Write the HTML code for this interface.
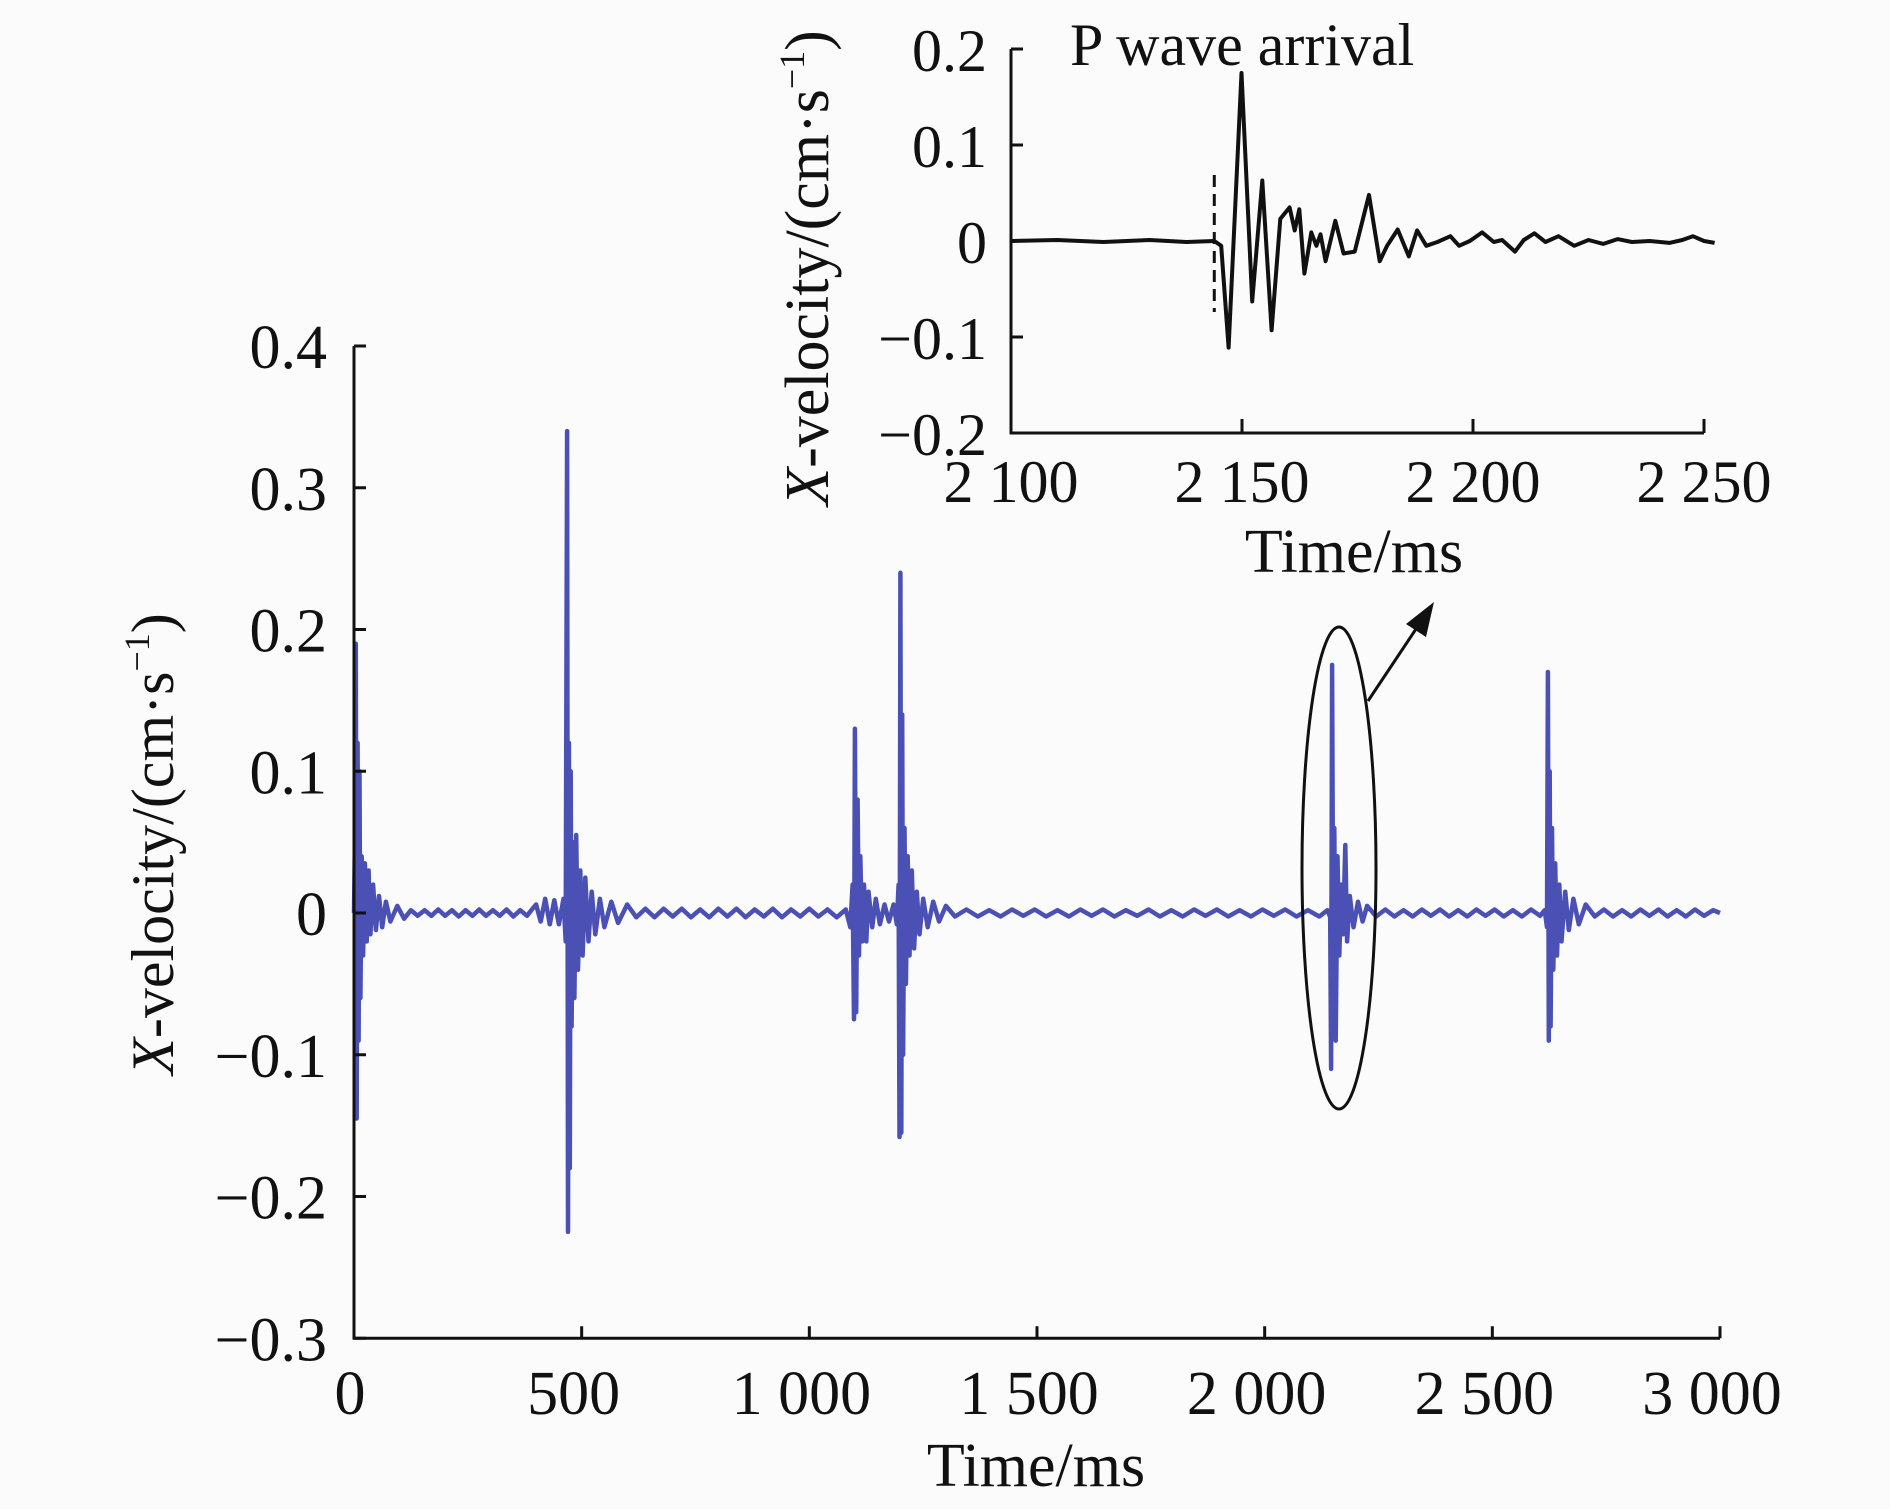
<!DOCTYPE html>
<html><head><meta charset="utf-8"><style>
html,body{margin:0;padding:0;background:#fbfbfb;}
svg{display:block;font-family:"Liberation Serif",serif;}
</style></head><body>
<svg id="chart" width="1890" height="1509" viewBox="0 0 1890 1509">
<rect x="0" y="0" width="1890" height="1509" fill="#fbfbfb"/>
<g id="main"></g>
<g id="inset"></g>
</svg>
<script>
// ---- main chart data ----
const mainXTicks = [0, 500, 1000, 1500, 2000, 2500, 3000];
const mainXTickLabels = ["0", "500", "1 000", "1 500", "2 000", "2 500", "3 000"];
const mainYTicks = [0.4, 0.3, 0.2, 0.1, 0, -0.1, -0.2, -0.3];
const mainYTickLabels = ["0.4", "0.3", "0.2", "0.1", "0", "\u22120.1", "\u22120.2", "\u22120.3"];
const ev1T = [0,2,3,4,6,8,10,12,14,17,20,24,28,32,36,42,48,55,62,70,80,95,110];
const ev1V = [0,0.05,-0.06,0.19,-0.145,0.12,-0.09,0.1,-0.06,0.04,-0.03,0.035,-0.02,0.03,-0.015,0.02,-0.012,0.012,-0.01,0.008,-0.006,0.005,-0.004];
const base1T = [125,140,155,170,185,200,215,230,245,260,275,290,305,320,335,350,365,380,392];
const base1V = [0.002,-0.002,0.002,-0.002,0.0025,-0.002,0.002,-0.0025,0.002,-0.002,0.0025,-0.002,0.002,-0.002,0.0025,-0.0025,0.002,-0.002,0.003];
const ev2T = [400,410,420,430,440,450,460,465,468,470,472,474,476,478,481,484,488,492,497,502,508,515,522,530,540,550,565,580,600];
const ev2V = [0.006,-0.006,0.01,-0.008,0.009,-0.008,0.01,-0.02,0.34,-0.225,0.12,-0.18,0.1,-0.08,0.05,-0.06,0.055,-0.04,0.03,-0.03,0.025,-0.02,0.015,-0.015,0.01,-0.01,0.008,-0.007,0.006];
const base2T = [620,640,660,680,700,720,740,760,780,800,820,840,860,880,900,920,940,960,980,1000,1020,1040,1060,1080];
const base2V = [-0.003,0.003,-0.003,0.003,-0.0025,0.003,-0.003,0.0025,-0.003,0.003,-0.0025,0.003,-0.003,0.0025,-0.0025,0.003,-0.003,0.0025,-0.0025,0.003,-0.0025,0.0025,-0.003,0.0025];
const ev3T = [1090,1095,1098,1100,1103,1106,1109,1112,1116,1120,1125,1130,1138,1146,1155,1165,1175,1185,1192];
const ev3V = [-0.01,0.02,-0.075,0.13,-0.07,0.08,-0.03,0.04,-0.02,0.02,-0.02,0.015,-0.01,0.01,-0.008,0.006,-0.006,0.006,-0.008];
const ev4T = [1196,1198,1200,1202,1204,1206,1209,1212,1216,1220,1225,1230,1236,1242,1250,1260,1272,1285,1300];
const ev4V = [0.02,-0.158,0.24,-0.155,0.14,-0.1,0.06,-0.05,0.04,-0.03,0.03,-0.025,0.015,-0.015,0.01,-0.01,0.008,-0.006,0.005];
const base3T = [1320,1345,1370,1395,1420,1445,1470,1495,1520,1545,1570,1595,1620,1645,1670,1695,1720,1745,1770,1795,1820,1845,1870,1895,1920,1945,1970,1995,2020,2045,2070,2095,2120,2138];
const base3V = [-0.0025,0.0025,-0.0025,0.002,-0.0025,0.0025,-0.002,0.0025,-0.0025,0.002,-0.0025,0.0025,-0.002,0.0025,-0.0025,0.002,-0.002,0.0025,-0.0025,0.002,-0.0025,0.0025,-0.002,0.0025,-0.0025,0.002,-0.0025,0.0025,-0.002,0.0025,-0.0025,0.002,-0.0025,0.002];
const ev5T = [2144,2146,2148,2151,2153,2156,2160,2164,2168,2172,2177,2181,2187,2195,2205,2215,2225];
const ev5V = [-0.003,-0.11,0.175,-0.07,0.06,-0.09,0.04,-0.03,0.02,-0.015,0.048,-0.02,0.012,-0.01,0.008,-0.006,0.005];
const base4T = [2245,2265,2285,2305,2325,2345,2365,2385,2405,2425,2445,2465,2485,2505,2525,2545,2565,2585,2605,2615];
const base4V = [-0.0025,0.0025,-0.0025,0.002,-0.0025,0.0025,-0.002,0.0025,-0.0025,0.002,-0.0025,0.0025,-0.002,0.0025,-0.0025,0.002,-0.0025,0.0025,-0.002,0.002];
const ev6T = [2620,2622,2624,2626,2628,2631,2634,2638,2642,2647,2652,2660,2668,2678,2690,2705];
const ev6V = [-0.01,0.17,-0.09,0.1,-0.08,0.06,-0.04,0.035,-0.03,0.02,-0.02,0.015,-0.012,0.01,-0.008,0.006];
const base5T = [2725,2745,2765,2785,2805,2825,2845,2865,2885,2905,2925,2945,2965,2985,3000];
const base5V = [-0.0025,0.0025,-0.0025,0.002,-0.0025,0.0025,-0.002,0.0025,-0.0025,0.002,-0.0025,0.0025,-0.002,0.002,0];

// ---- inset data ----
const insetXTicks = [2100, 2150, 2200, 2250];
const insetXTickLabels = ["2 100", "2 150", "2 200", "2 250"];
const insetYTicks = [0.2, 0.1, 0, -0.1, -0.2];
const insetYTickLabels = ["0.2", "0.1", "0", "\u22120.1", "\u22120.2"];
const insetT = [2100.3,2110,2120,2130,2138,2144.0,2145.5,2147.1,2149.9,2152.2,2154.4,2156.4,2158.3,2160.3,2161.4,2162.4,2163.5,2165.0,2166.1,2167.0,2168.1,2170.2,2172.0,2174.4,2177.5,2179.8,2181.4,2183.7,2186.1,2187.9,2189.9,2192.3,2195.1,2197.0,2199.3,2202.0,2204.5,2206.3,2209.1,2211.0,2213.3,2215.7,2218.5,2221.9,2225.0,2228.2,2231.3,2234.4,2238.3,2242.5,2245.3,2247.6,2250.0,2252.3];
const insetV = [0,0.001,-0.001,0.001,-0.001,0,-0.005,-0.111,0.175,-0.063,0.063,-0.093,0.023,0.035,0.011,0.033,-0.034,0.009,-0.005,0.007,-0.021,0.021,-0.013,-0.011,0.048,-0.021,-0.005,0.012,-0.016,0.011,-0.005,-0.001,0.005,-0.005,0,0.009,-0.001,0.001,-0.011,0.001,0.008,-0.001,0.005,-0.005,0.001,-0.003,0.002,-0.001,0,-0.002,0.001,0.005,0,-0.002];
const pArrival = 2144;

const NS = "http://www.w3.org/2000/svg";
function mk(parent, tag, attrs, text) {
  const e = document.createElementNS(NS, tag);
  for (const k in attrs) e.setAttribute(k, attrs[k]);
  if (text !== undefined) e.textContent = text;
  parent.appendChild(e);
  return e;
}

// ---- main ----
const main = document.getElementById('main');
const mx = t => 354 + (t - 0) / 3000 * (1720 - 354);
const my = v => 913 - v / 0.4 * (913 - 346);
const mainT = [].concat(ev1T, base1T, ev2T, base2T, ev3T, ev4T, base3T, ev5T, base4T, ev6T, base5T);
const mainV = [].concat(ev1V, base1V, ev2V, base2V, ev3V, ev4V, base3V, ev5V, base4V, ev6V, base5V);
let d = "";
mainT.forEach((t, i) => { d += (i ? "L" : "M") + mx(t).toFixed(1) + " " + my(mainV[i]).toFixed(1); });
const ml = mk(main, 'path', {d: d, fill: 'none', stroke: '#4b50b5', 'stroke-width': 4.5, 'stroke-linejoin': 'round'});



const ax = mk(main, 'path', {d: `M${mx(0)} ${my(0.4)}L${mx(0)} ${my(-0.3)}L${mx(3000)} ${my(-0.3)}`, fill: 'none', stroke: '#111', 'stroke-width': 3});


mainYTicks.forEach((v, i) => {
  const tk = mk(main, 'line', {x1: mx(0), x2: mx(0) + 12, y1: my(v), y2: my(v), stroke: '#111', 'stroke-width': 3});
  
  
  const lb = mk(main, 'text', {x: 327, y: my(v) + 22, 'text-anchor': 'end', 'font-size': 62, fill: '#111'}, mainYTickLabels[i]);
  
  
});
mainXTicks.forEach((t, i) => {
  const tk = mk(main, 'line', {x1: mx(t), x2: mx(t), y1: my(-0.3), y2: my(-0.3) - 12, stroke: '#111', 'stroke-width': 3});
  
  
  const lb = mk(main, 'text', {x: i === 0 ? mx(t) - 4 : mx(t) - 8, y: 1414, 'text-anchor': 'middle', 'font-size': 62, fill: '#111'}, mainXTickLabels[i]);
  
  
});
const xt = mk(main, 'text', {x: 1036, y: 1486, 'text-anchor': 'middle', 'font-size': 62, fill: '#111'}, 'Time/ms');


const yt = mk(main, 'text', {transform: 'translate(173 844) rotate(-90)', 'text-anchor': 'middle', 'font-size': 60, fill: '#111'});


mk(yt, 'tspan', {'font-style': 'italic'}, 'X');
mk(yt, 'tspan', {}, '-velocity/(cm\u00b7s');
mk(yt, 'tspan', {dy: -24, 'font-size': 36}, '\u22121');
mk(yt, 'tspan', {dy: 24}, ')');

const el = mk(main, 'ellipse', {cx: 1339, cy: 868, rx: 37, ry: 241, fill: 'none', stroke: '#111', 'stroke-width': 3});


const ar = mk(main, 'line', {x1: 1368, y1: 701, x2: 1418, y2: 626, stroke: '#111', 'stroke-width': 3});


const ah = mk(main, 'polygon', {points: '1434,602 1406,624 1426,637', fill: '#111'});



// ---- inset ----
const inset = document.getElementById('inset');
const ix = t => 1011 + (t - 2100) / 150 * (1704 - 1011);
const iy = v => 241 - v / 0.2 * (241 - 49);
let d2 = "";
insetT.forEach((t, i) => { d2 += (i ? "L" : "M") + ix(t).toFixed(1) + " " + iy(insetV[i]).toFixed(1); });
const il = mk(inset, 'path', {d: d2, fill: 'none', stroke: '#111', 'stroke-width': 4, 'stroke-linejoin': 'round'});


const pl = mk(inset, 'line', {x1: ix(pArrival), x2: ix(pArrival), y1: 175, y2: 312, stroke: '#111', 'stroke-width': 3, 'stroke-dasharray': '12 7'});


const iax = mk(inset, 'path', {d: `M${ix(2100)} ${iy(0.2)}L${ix(2100)} ${iy(-0.2)}L${ix(2250)} ${iy(-0.2)}`, fill: 'none', stroke: '#111', 'stroke-width': 3});


insetYTicks.forEach((v, i) => {
  const tk = mk(inset, 'line', {x1: ix(2100), x2: ix(2100) + 12, y1: iy(v), y2: iy(v), stroke: '#111', 'stroke-width': 3});
  
  
  const lb = mk(inset, 'text', {x: 987, y: iy(v) + 22, 'text-anchor': 'end', 'font-size': 60, fill: '#111'}, insetYTickLabels[i]);
  
  
});
insetXTicks.forEach((t, i) => {
  const tk = mk(inset, 'line', {x1: ix(t), x2: ix(t), y1: iy(-0.2), y2: iy(-0.2) - 14, stroke: '#111', 'stroke-width': 3});
  
  
  const lb = mk(inset, 'text', {x: ix(t), y: 502, 'text-anchor': 'middle', 'font-size': 60, fill: '#111'}, insetXTickLabels[i]);
  
  
});
const ixt = mk(inset, 'text', {x: 1354, y: 572, 'text-anchor': 'middle', 'font-size': 62, fill: '#111'}, 'Time/ms');


const iyt = mk(inset, 'text', {transform: 'translate(828 268) rotate(-90)', 'text-anchor': 'middle', 'font-size': 62, fill: '#111'});


mk(iyt, 'tspan', {'font-style': 'italic'}, 'X');
mk(iyt, 'tspan', {}, '-velocity/(cm\u00b7s');
mk(iyt, 'tspan', {dy: -24, 'font-size': 36}, '\u22121');
mk(iyt, 'tspan', {dy: 24}, ')');
const pt = mk(inset, 'text', {x: 1070, y: 65, 'font-size': 60, fill: '#111'}, 'P wave arrival');


</script>
</body></html>
